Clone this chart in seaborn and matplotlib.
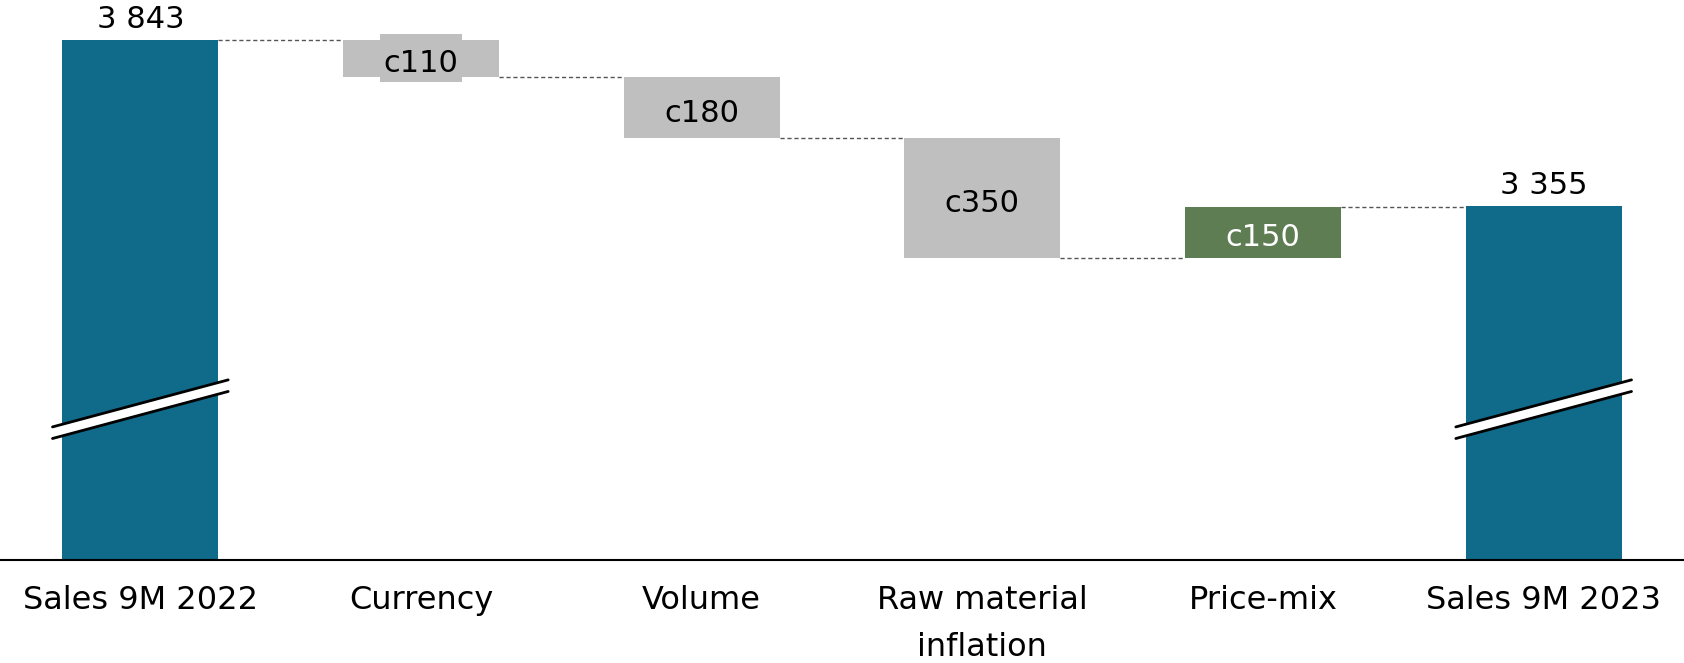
import matplotlib
matplotlib.use("Agg")
import matplotlib.pyplot as plt
from matplotlib.path import Path
import seaborn as sns

# chart data
categories = ["Sales 9M 2022", "Currency", "Volume", "Raw material\ninflation", "Price-mix", "Sales 9M 2023"]
start_total = 3843
end_total = 3355
deltas = [-110, -180, -350, 150]
delta_labels = ["c110", "c180", "c350", "c150"]
total_labels = ["3 843", "3 355"]

# broken axis: bars start at a floor value, not at zero
axis_floor = 2318
axis_top = 3959
break_level = 2759

teal = "#106b8a"
grey = "#bfbfbf"
green = "#5e7d52"

sns.set_style("white")
plt.rcParams["font.family"] = ["DejaVu Sans"]


def label_box(x0, y0, width, height, mutation_size):
    # label background, wider vertically than horizontally
    l, r = 0.11 * mutation_size, 0.11 * mutation_size
    b, t = 0.13 * mutation_size, 0.49 * mutation_size
    return Path([(x0 - l, y0 - b), (x0 + width + r, y0 - b),
                 (x0 + width + r, y0 + height + t), (x0 - l, y0 + height + t),
                 (x0 - l, y0 - b)], closed=True)


# running levels of the waterfall
levels = [start_total]
for d in deltas:
    levels.append(levels[-1] + d)

bottoms = [axis_floor]
heights = [start_total - axis_floor]
colors = [teal]
for i, d in enumerate(deltas):
    bottoms.append(min(levels[i], levels[i + 1]))
    heights.append(abs(d))
    colors.append(green if d > 0 else grey)
bottoms.append(axis_floor)
heights.append(end_total - axis_floor)
colors.append(teal)

fig = plt.figure(figsize=(16.84, 6.63), dpi=100)
ax = fig.add_axes([0, 0.156, 1, 0.844])

bar_w = 0.557
sns.barplot(x=categories, y=heights, bottom=bottoms, width=bar_w,
            color=teal, errorbar=None, saturation=1, ax=ax, zorder=2)
for patch, c in zip(ax.patches, colors):
    patch.set_facecolor(c)
    patch.set_edgecolor("none")

# dashed connectors
for i, lvl in enumerate(levels):
    ax.plot([i + bar_w / 2, i + 1 - bar_w / 2], [lvl, lvl],
            color="#555555", lw=1, linestyle=(0, (3, 2)), zorder=1)

# total labels
for i, (val, lab) in zip([0, 5], zip([start_total, end_total], total_labels)):
    ax.annotate(lab, (i, val), xytext=(0, 8.5), textcoords="offset points",
                ha="center", va="baseline", fontsize=22, color="black")

# delta labels
for j, (d, lab) in enumerate(zip(deltas, delta_labels)):
    i = j + 1
    mid = (levels[j] + levels[j + 1]) / 2
    ax.annotate(lab, (i, mid), xytext=(0, -4), textcoords="offset points",
                ha="center", va="center", fontsize=22,
                color="white" if d > 0 else "black", zorder=3,
                bbox=dict(boxstyle=label_box, fc=colors[i], ec="none"))

# axis break marks on the total bars
half_span = 0.313
rise = 138
gap = 34
for i in [0, 5]:
    xs = [i - half_span, i + half_span]
    lower = [break_level - gap / 2 - rise / 2, break_level - gap / 2 + rise / 2]
    upper = [break_level + gap / 2 - rise / 2, break_level + gap / 2 + rise / 2]
    ax.fill_between(xs, lower, upper, color="white", zorder=3, lw=0)
    ax.plot(xs, lower, color="black", lw=2, zorder=4)
    ax.plot(xs, upper, color="black", lw=2, zorder=4)

ax.set_xlim(-0.5, 5.5)
ax.set_ylim(axis_floor, axis_top)
ax.set_xlabel("")
ax.set_ylabel("")
ax.set_yticks([])
ax.set_xticks(range(len(categories)))
ax.set_xticklabels(categories, linespacing=1.7, fontsize=23, color="black")
ax.tick_params(axis="x", length=0, pad=18)
for side in ["top", "left", "right"]:
    ax.spines[side].set_visible(False)
ax.spines["bottom"].set_color("black")
ax.spines["bottom"].set_linewidth(1.5)

fig.savefig("out.png", dpi=100)
